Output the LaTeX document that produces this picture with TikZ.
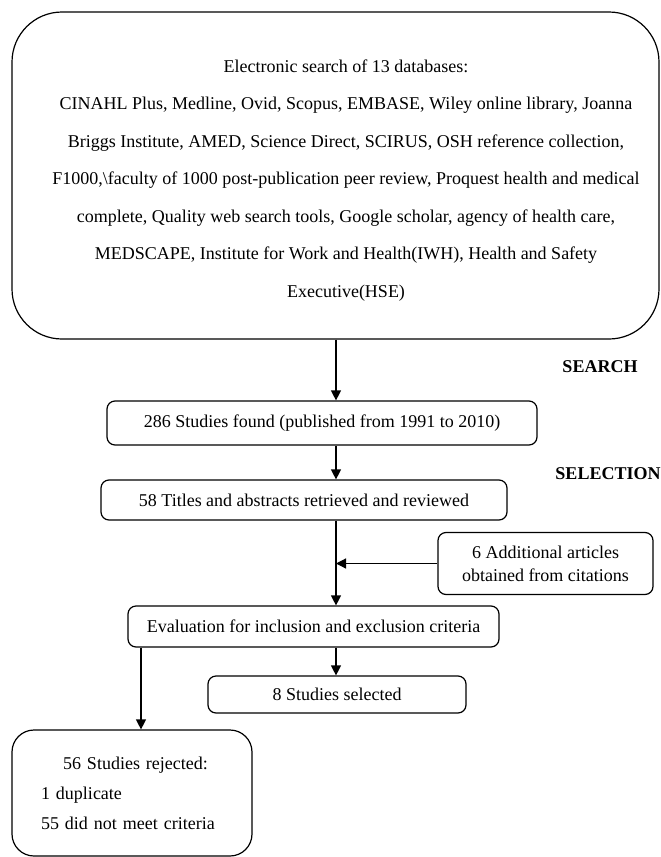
\documentclass[tikz,border=0pt]{standalone}
\usepackage{fontspec}
\setmainfont{Liberation Serif}
\usetikzlibrary{positioning}
\usetikzlibrary{arrows.meta}
\tikzstyle{roundbox} = [rectangle, rounded corners=8pt, draw=black, line width=1.2pt, inner sep=0pt, font=\fontsize{18}{23}\selectfont]
\tikzstyle{bigbox} = [rectangle, draw=black, line width=1.2pt, inner sep=0pt]
\tikzstyle{phase} = [font=\fontsize{18}{22}\selectfont\bfseries]
\tikzstyle{arrow} = [line width=1.2pt, -{Triangle[length=10pt,width=10pt]}]

\begin{document}
\begin{tikzpicture}[x=1pt, y=-1pt]
        \useasboundingbox (0,0) rectangle (661,857);
        \node (dbbox) [bigbox, rounded corners=50pt, minimum width=647pt, minimum height=327pt] at (335.5,175.5) {};
        \node (dbtext) [align=center, font=\fontsize{18}{37.5}\selectfont] at (346,180.5) {Electronic search of 13 databases:\\
            CINAHL Plus, Medline, Ovid, Scopus, EMBASE, Wiley online library, Joanna\\
            Briggs Institute, AMED, Science Direct, SCIRUS, OSH reference collection,\\
            F1000,\textbackslash faculty of 1000 post-publication peer review, Proquest health and medical\\
            complete, Quality web search tools, Google scholar, agency of health care,\\
            MEDSCAPE, Institute for Work and Health(IWH), Health and Safety\\
            Executive(HSE)};
        \node (found) [roundbox, minimum width=430pt, minimum height=44pt] at (322,423) {286 Studies found (published from 1991 to 2010)};
        \node (titles) [roundbox, minimum width=406pt, minimum height=40pt] at (304,500) {58 Titles and abstracts retrieved and reviewed};
        \node (extra) [roundbox, align=center, minimum width=215pt, minimum height=62pt] at (545.5,563.5) {6 Additional articles\\obtained from citations};
        \node (evalbox) [roundbox, minimum width=371pt, minimum height=41pt] at (313.5,626.5) {Evaluation for inclusion and exclusion criteria};
        \node (chosen) [roundbox, minimum width=258pt, minimum height=37pt] at (337,694.5) {8 Studies selected};
        \node (rejected) [roundbox, rounded corners=22pt, align=left, text width=182pt, inner xsep=29pt, minimum height=126pt, font=\fontsize{18}{30}\selectfont] at (132,793) {\hspace*{22pt}56 Studies rejected:\\1 duplicate\\55 did not meet criteria};
        \node (search) [phase] at (600,367) {SEARCH};
        \node (selection) [phase] at (608,474) {SELECTION};
        \coordinate (spine) at (336,0);
        \coordinate (leftdrop) at (141,0);
        \draw [arrow] (spine |- dbbox.south) -- (spine |- found.north);
        \draw [arrow] (spine |- found.south) -- (spine |- titles.north);
        \draw [arrow] (spine |- titles.south) -- (spine |- evalbox.north);
        \draw [arrow] (extra.west) -- (spine |- extra.west);
        \draw [arrow] (spine |- evalbox.south) -- (spine |- chosen.north);
        \draw [arrow] (leftdrop |- evalbox.south) -- (leftdrop |- rejected.north);

    \end{tikzpicture}
\end{document}
